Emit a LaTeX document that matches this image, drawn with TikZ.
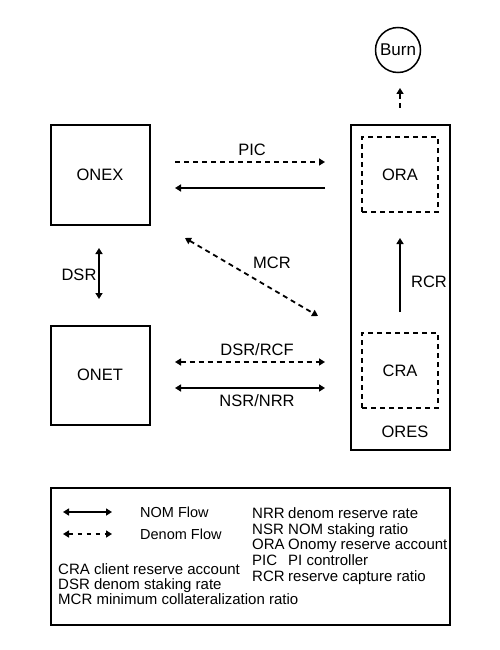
\documentclass[tikz,border=0pt]{standalone}
\usepackage{fontspec}
\setmainfont{Liberation Sans}
\usetikzlibrary{arrows.meta}

\def\sc{1pt}
\def\lw{1.8pt}
\def\boxsz{99pt}
\def\bigfont{\fontsize{16.5}{18}\selectfont}
\def\keyfont{\fontsize{15}{17}\selectfont}
\def\flowfont{\fontsize{14.5}{16}\selectfont}

\tikzset{
  party/.style={draw, line width=2pt, minimum size=\boxsz, inner sep=0pt, font=\bigfont},
  acct/.style={draw, dash pattern=on 5pt off 4pt, line width=1.5pt,
    minimum width=76pt, minimum height=75pt, inner sep=0pt, font=\bigfont},
  lbl/.style={inner sep=0pt, text height=11.8pt, text depth=0pt, font=\bigfont},
  keytxt/.style={anchor=west, inner sep=0pt, text height=10.7pt, text depth=0pt, font=\keyfont},
  nomflow/.style={line width=\lw},
  denomflow/.style={line width=\lw, dash pattern=on 5pt off 4pt},
}

\begin{document}
\begin{tikzpicture}[x=\sc, y=-\sc, >={Triangle[length=6pt,width=7pt]}]
\useasboundingbox (0,0) rectangle (500,650);
% exchange, token and reserve
\node (onex) [party] at (100,175) {ONEX};
\node (onet) [party] at (100,375) {ONET};
\node (ores) [party, minimum height=325pt] at (400,287.5) {};
\node (oreslbl) [lbl] at (405,432) {ORES};
\node (ora) [acct] at (400,174.5) {ORA};
\node (cra) [acct] at (400,370.5) {CRA};
\node (burn) [draw, circle, line width=1.5pt, minimum size=45pt, inner sep=0pt,
  font=\fontsize{17}{18}\selectfont] at (398,50) {Burn};

% flows
\coordinate (burnA) at (400,108);
\coordinate (burnB) at (400,88);
\draw [denomflow, ->] (burnA) -- (burnB);

\coordinate (picA) at (175,162);
\coordinate (picB) at (325,162);
\draw [denomflow, ->] (picA) -- (picB);
\node (piclbl) [lbl] at (252,150) {PIC};
\coordinate (backA) at (325,188);
\coordinate (backB) at (175,188);
\draw [nomflow, ->] (backA) -- (backB);

\coordinate (mcrA) at (185,238);
\coordinate (mcrB) at (318,316);
\draw [denomflow, <->] (mcrA) -- (mcrB);
\node (mcrlbl) [lbl] at (272,263) {MCR};

\coordinate (dsrA) at (99,248);
\coordinate (dsrB) at (99,299);
\draw [nomflow, <->] (dsrA) -- (dsrB);
\node (dsrlbl) [lbl] at (79,275) {DSR};

\coordinate (rcrA) at (400,312);
\coordinate (rcrB) at (400,238);
\draw [nomflow, ->] (rcrA) -- (rcrB);
\node (rcrlbl) [lbl] at (429,282) {RCR};

\coordinate (rcfA) at (175,362);
\coordinate (rcfB) at (325,362);
\draw [denomflow, <->] (rcfA) -- (rcfB);
\node (rcflbl) [lbl] at (257,350) {DSR/RCF};
\coordinate (nrrA) at (175,388);
\coordinate (nrrB) at (325,388);
\draw [nomflow, <->] (nrrA) -- (nrrB);
\node (nrrlbl) [lbl] at (257,401) {NSR/NRR};

% key
\node (key) [draw, line width=2pt, minimum width=399pt, minimum height=137pt] at (250,556) {};
\coordinate (nomA) at (63,512);
\coordinate (nomB) at (112,512);
\draw [line width=1.5pt, <->] (nomA) -- (nomB);
\node (nomlbl) [keytxt, font=\flowfont] at (140,512) {NOM Flow};
\coordinate (denA) at (63,534);
\coordinate (denB) at (112,534);
\draw [line width=1.5pt, dash pattern=on 4pt off 5pt, <->] (denA) -- (denB);
\node (denlbl) [keytxt, font=\flowfont] at (140,534) {Denom Flow};

\foreach \ab/\df [count=\i] in {CRA/client reserve account,
    DSR/denom staking rate, MCR/minimum collateralization ratio} {
  \node (lab\i) [keytxt] at (58,554+15*\i) {\ab{} \df};
}
\foreach \ab/\df [count=\i] in {NRR/denom reserve rate, NSR/NOM staking ratio,
    ORA/Onomy reserve account, PIC/PI controller, RCR/reserve capture ratio} {
  \node (rab\i) [keytxt] at (252,513+15.8*\i-15.8) {\ab};
  \node (rdf\i) [keytxt] at (288,513+15.8*\i-15.8) {\df};
}
\end{tikzpicture}
\end{document}
